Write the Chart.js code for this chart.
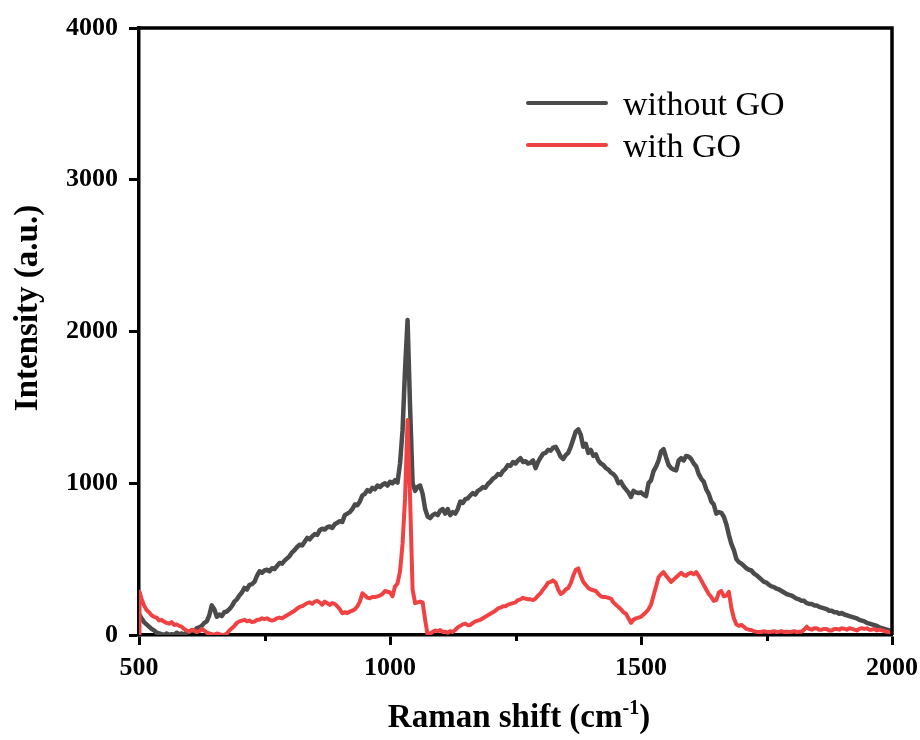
<!DOCTYPE html>
<html>
<head>
<meta charset="utf-8">
<script src="https://cdn.jsdelivr.net/npm/chart.js@4.4.0/dist/chart.umd.min.js"></script>
<style>
  html, body { margin: 0; padding: 0; background: #fff; }
  #wrap { width: 920px; height: 740px; }
</style>
</head>
<body>
<div id="wrap"><canvas id="ramanChart"></canvas></div>
<script>
// Raman shift sampling (cm-1), shared by both spectra
const shift = [
  500,505,510,515,520,525,530,535,540,545,550,555,560,565,570,575,580,585,590,595,
  600,605,610,615,620,625,630,635,640,645,650,655,660,665,670,675,680,685,690,695,
  700,705,710,715,720,725,730,735,740,745,750,755,760,765,770,775,780,785,790,795,
  800,805,810,815,820,825,830,835,840,845,850,855,860,865,870,875,880,885,890,895,
  900,905,910,915,920,925,930,935,940,945,950,955,960,965,970,975,980,985,990,995,
  1000,1005,1010,1015,1020,1025,1030,1035,1040,1045,1050,1055,1060,1065,1070,1075,1080,1085,1090,1095,
  1100,1105,1110,1115,1120,1125,1130,1135,1140,1145,1150,1155,1160,1165,1170,1175,1180,1185,1190,1195,
  1200,1205,1210,1215,1220,1225,1230,1235,1240,1245,1250,1255,1260,1265,1270,1275,1280,1285,1290,1295,
  1300,1305,1310,1315,1320,1325,1330,1335,1340,1345,1350,1355,1360,1365,1370,1375,1380,1385,1390,1395,
  1400,1405,1410,1415,1420,1425,1430,1435,1440,1445,1450,1455,1460,1465,1470,1475,1480,1485,1490,1495,
  1500,1505,1510,1515,1520,1525,1530,1535,1540,1545,1550,1555,1560,1565,1570,1575,1580,1585,1590,1595,
  1600,1605,1610,1615,1620,1625,1630,1635,1640,1645,1650,1655,1660,1665,1670,1675,1680,1685,1690,1695,
  1700,1705,1710,1715,1720,1725,1730,1735,1740,1745,1750,1755,1760,1765,1770,1775,1780,1785,1790,1795,
  1800,1805,1810,1815,1820,1825,1830,1835,1840,1845,1850,1855,1860,1865,1870,1875,1880,1885,1890,1895,
  1900,1905,1910,1915,1920,1925,1930,1935,1940,1945,1950,1955,1960,1965,1970,1975,1980,1985,1990,1995,
  2000
];

// without GO
const intNoGO = [
  140,110,85,70,55,40,30,15,10,5,0,10,0,5,0,15,5,10,0,20,
  20,30,25,45,50,60,80,90,130,195,170,120,135,125,150,155,170,190,220,235,
  260,280,310,300,330,335,350,390,420,410,425,430,420,440,435,455,475,470,490,505,
  520,545,560,580,595,590,615,640,630,650,665,660,690,700,695,710,715,705,730,740,
  750,745,790,800,810,830,860,855,880,920,930,955,945,970,960,985,975,990,1000,985,
  1010,1000,1020,1005,1130,1350,1750,2076,1500,1000,950,975,985,930,830,780,770,790,800,790,
  820,830,800,830,790,810,800,830,880,870,895,900,920,935,925,950,960,975,970,995,
  1010,1030,1040,1060,1055,1080,1095,1120,1115,1140,1130,1150,1165,1140,1145,1130,1135,1150,1100,1140,
  1170,1195,1200,1220,1215,1235,1240,1210,1175,1160,1185,1200,1240,1290,1340,1355,1320,1240,1260,1200,
  1220,1180,1190,1150,1130,1120,1100,1090,1070,1060,1040,1000,1010,980,960,940,910,950,940,935,
  940,925,915,1000,1020,1080,1110,1150,1210,1225,1170,1120,1100,1090,1085,1150,1165,1150,1180,1175,
  1160,1130,1110,1060,1030,1010,960,930,880,860,800,810,805,780,730,660,600,560,500,480,
  470,455,440,430,425,405,395,380,365,350,345,330,320,315,305,300,290,280,270,265,
  260,250,240,235,225,225,210,205,205,195,195,185,180,175,170,160,160,150,150,140,
  145,135,130,125,120,115,110,100,95,90,80,75,70,65,60,50,45,40,35,30,
  20
];

// with GO
const intGO = [
  285,240,195,165,150,130,120,115,95,100,88,80,75,85,66,70,60,55,40,30,
  22,35,30,20,25,40,30,15,10,5,0,10,5,0,0,10,30,45,60,80,
  90,95,100,90,95,85,88,100,100,110,105,110,100,95,100,110,115,110,120,130,
  140,150,160,175,185,190,200,210,215,205,220,225,215,200,220,210,198,210,205,190,
  170,143,150,145,154,160,170,190,220,275,260,245,242,250,250,255,260,270,290,285,
  280,255,320,340,420,600,900,1417,900,300,210,215,220,215,100,0,10,20,30,25,
  33,20,22,15,25,20,33,50,60,70,75,65,66,80,90,95,100,110,120,130,
  140,150,160,175,180,190,190,200,205,210,215,230,235,245,240,235,235,230,240,260,
  275,300,320,345,350,360,345,300,270,280,300,310,340,390,430,439,390,350,330,310,
  300,295,290,270,255,250,250,245,240,215,200,185,170,150,140,110,80,100,110,115,
  120,135,150,170,200,260,320,380,400,415,390,370,350,365,380,395,410,395,390,405,
  410,400,415,390,360,330,300,270,250,225,230,280,290,255,260,285,180,110,70,60,
  66,55,40,35,33,25,22,20,20,25,22,20,22,25,20,22,25,20,22,20,
  22,25,20,22,22,35,55,40,35,45,45,35,35,40,40,30,30,40,40,35,
  45,40,35,45,40,35,30,40,45,40,44,35,35,40,30,35,30,25,22,20,
  10
];

const xTicks = [500, 1000, 1500, 2000];
const xMinorTicks = [750, 1250, 1750];
const yTicks = [0, 1000, 2000, 3000, 4000];

const seriesNames = ['without GO', 'with GO'];
const seriesColors = ['#4b4b4b', '#f04242'];

const toPoints = (xs, ys) => xs.map((x, i) => ({ x: x, y: ys[i] }));

const SERIF = '"Liberation Serif", "Times New Roman", serif';

// red spectrum starts with a vertical rise at 500
const goPoints = [{ x: 500, y: 0 }].concat(toPoints(shift, intGO).map((p, i) => i === 0 ? { x: 501, y: p.y } : p));

// box, minor ticks, axis titles and legend
const decorations = {
  id: 'decorations',
  afterDraw(chart) {
    const { ctx, chartArea: a, scales } = chart;
    ctx.save();
    ctx.strokeStyle = '#000';
    ctx.lineWidth = 3.5;
    ctx.beginPath();
    ctx.moveTo(a.left, a.top);
    ctx.lineTo(a.right, a.top);
    ctx.lineTo(a.right, a.bottom);
    ctx.stroke();

    ctx.lineWidth = 3;
    xMinorTicks.forEach(v => {
      const px = Math.round(scales.x.getPixelForValue(v)) + 0.5;
      ctx.beginPath();
      ctx.moveTo(px, a.bottom);
      ctx.lineTo(px, a.bottom + 6);
      ctx.stroke();
    });

    ctx.fillStyle = '#000';
    ctx.textBaseline = 'alphabetic';
    // x title with superscript
    const big = 'bold 33px ' + SERIF, small = 'bold 20px ' + SERIF;
    ctx.font = big;
    const p1 = 'Raman shift (cm', p3 = ')';
    const w1 = ctx.measureText(p1).width, w3 = ctx.measureText(p3).width;
    ctx.font = small;
    const w2 = ctx.measureText('-1').width;
    const total = w1 + w2 + w3;
    const tx = 519 - total / 2;
    const ty = 727;
    ctx.font = big;
    ctx.textAlign = 'left';
    ctx.fillText(p1, tx, ty);
    ctx.font = small;
    ctx.fillText('-1', tx + w1, ty - 13);
    ctx.font = big;
    ctx.fillText(p3, tx + w1 + w2, ty);

    // y title
    ctx.save();
    ctx.translate(37, 308);
    ctx.rotate(-Math.PI / 2);
    ctx.textAlign = 'center';
    ctx.font = big;
    ctx.fillText('Intensity (a.u.)', 0, 0);
    ctx.restore();

    // legend
    ctx.font = '34px ' + SERIF;
    ctx.textAlign = 'left';
    ctx.lineCap = 'round';
    chart.data.datasets.forEach((ds, i) => {
      const ly = 103 + i * 42;
      ctx.strokeStyle = ds.borderColor;
      ctx.lineWidth = 4;
      ctx.beginPath();
      ctx.moveTo(528, ly);
      ctx.lineTo(606, ly);
      ctx.stroke();
      ctx.fillStyle = '#000';
      ctx.fillText(ds.label, 623, ly + 12);
    });
    ctx.restore();
  }
};

new Chart(document.getElementById('ramanChart'), {
  type: 'line',
  data: {
    datasets: [
      { label: seriesNames[0], data: toPoints(shift, intNoGO), borderColor: seriesColors[0], borderWidth: 4.5, order: 1 },
      { label: seriesNames[1], data: goPoints, borderColor: seriesColors[1], borderWidth: 4, order: 0 }
    ]
  },
  options: {
    responsive: true,
    maintainAspectRatio: false,
    animation: false,
    parsing: false,
    layout: { padding: { top: 28, right: 28, left: 0, bottom: 0 } },
    elements: {
      line: { tension: 0, borderJoinStyle: 'round', fill: false },
      point: { radius: 0 }
    },
    plugins: { legend: { display: false }, tooltip: { enabled: false } },
    scales: {
      x: {
        type: 'linear',
        min: 500, max: 2000,
        afterBuildTicks: s => { s.ticks = xTicks.map(v => ({ value: v })); },
        afterFit: s => { s.height = 105; s.paddingLeft = 0; s.paddingRight = 0; },
        ticks: { color: '#000', font: { family: SERIF, size: 26, weight: 'bold' }, padding: 8, maxRotation: 0, callback: v => String(v) },
        grid: { drawOnChartArea: false, drawTicks: true, tickLength: 10, tickWidth: 3, tickColor: '#000' },
        border: { display: true, color: '#000', width: 3.5 }
      },
      y: {
        min: 0, max: 4000,
        afterBuildTicks: s => { s.ticks = yTicks.map(v => ({ value: v })); },
        afterFit: s => { s.width = 139; s.paddingTop = 0; s.paddingBottom = 0; },
        ticks: { color: '#000', font: { family: SERIF, size: 26, weight: 'bold' }, padding: 11, callback: v => String(v) },
        grid: { drawOnChartArea: false, drawTicks: true, tickLength: 10, tickWidth: 3, tickColor: '#000' },
        border: { display: true, color: '#000', width: 3.5 }
      }
    }
  },
  plugins: [decorations]
});
</script>
</body>
</html>
